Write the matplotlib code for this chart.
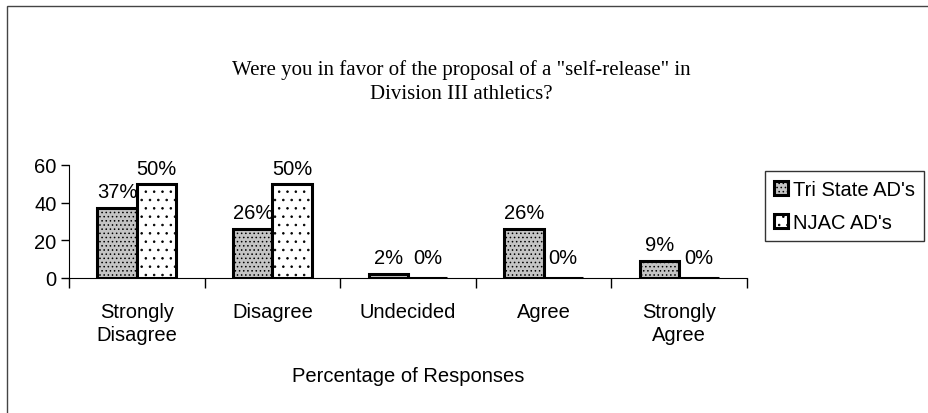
import matplotlib
matplotlib.use("Agg")
import matplotlib.pyplot as plt
import numpy as np
from matplotlib.patches import Rectangle

categories = ["Strongly\nDisagree", "Disagree", "Undecided", "Agree", "Strongly\nAgree"]
tri_state = [37, 26, 2, 26, 9]
njac = [50, 50, 0, 0, 0]
series_names = ["Tri State AD's", "NJAC AD's"]

plt.rcParams['font.family'] = ['Liberation Sans', 'DejaVu Sans']
plt.rcParams['hatch.linewidth'] = 0.6
FS = 14.5

fig = plt.figure(figsize=(9.29, 4.14), dpi=100)
ax = fig.add_axes([69 / 929, 1 - 279 / 414, (747 - 69) / 929, (279 - 166) / 414])

x = np.arange(len(categories))
w = 0.29
ax.bar(x - w / 2, tri_state, w, facecolor="#c4c4c4", edgecolor="black",
       linewidth=2.2, hatch="....", label=series_names[0])
ax.bar(x + w / 2, njac, w, facecolor="white", edgecolor="black",
       linewidth=2.2, hatch=". .", label=series_names[1])

for xi, v in zip(x - w / 2, tri_state):
    ax.annotate(f"{v}%", (xi, v), xytext=(0, 5), textcoords="offset points",
                ha="center", va="bottom", fontsize=FS)
for xi, v in zip(x + w / 2, njac):
    off = 4 if v > 0 else 8
    ax.annotate(f"{v}%", (xi, v), xytext=(0, off),
                textcoords="offset points", ha="center", va="bottom", fontsize=FS)

ax.set_xlim(-0.5, len(categories) - 0.5)
ax.set_ylim(0, 60)
ax.set_yticks([0, 20, 40, 60])
ax.set_xticks(x)
ax.set_xticklabels(categories, fontsize=FS, linespacing=1.3)
ax.tick_params(axis="x", which="major", length=0, pad=17)
ax.set_xticks(np.arange(len(categories) + 1) - 0.5, minor=True)
ax.tick_params(axis="x", which="minor", length=7, direction="out", width=1)
ax.tick_params(axis="y", length=6, width=1, labelsize=FS, pad=3)
ax.spines["top"].set_visible(False)
ax.spines["right"].set_visible(False)
ax.set_xlabel("Percentage of Responses", fontsize=FS, labelpad=16)

fig.text(0.497, 1 - 82 / 414,
         "Were you in favor of the proposal of a \"self-release\" in\nDivision III athletics?",
         ha="center", va="center", fontsize=15, family=["Liberation Serif"],
         linespacing=1.4)

ax.legend(loc="upper left", bbox_to_anchor=(765 / 929, 1 - 172 / 414),
          bbox_transform=fig.transFigure, frameon=True, fancybox=False,
          edgecolor="black", fontsize=FS, handlelength=0.7, handleheight=0.7,
          handletextpad=0.25, borderpad=0.45, labelspacing=0.7,
          borderaxespad=0)

fig.add_artist(Rectangle((7 / 929, -0.1), 1.1, 1 - 7 / 414 + 0.1,
                         transform=fig.transFigure, fill=False,
                         edgecolor="#444444", linewidth=1))

fig.savefig("out.png", dpi=100)
